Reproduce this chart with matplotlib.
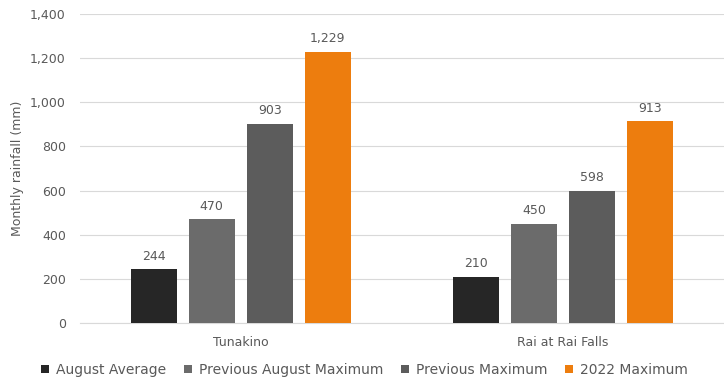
import numpy as np
import matplotlib
matplotlib.use('Agg')
from matplotlib import pyplot as plt

sites = ['Tunakino', 'Rai at Rai Falls']
series = ['August Average', 'Previous August Maximum', 'Previous Maximum', '2022 Maximum']
values = [
    [244, 210],
    [470, 450],
    [903, 598],
    [1229, 913],
]
colors = ['#262626', '#6b6b6b', '#5c5c5c', '#ed7d0e']
yticks = [0, 200, 400, 600, 800, 1000, 1200, 1400]

txt = '#595959'
plt.rcParams['font.family'] = ['DejaVu Sans']

fig = plt.figure(figsize=(7.24, 3.86), dpi=100)
ax = fig.add_axes([0.11, 0.163, 0.89, 0.801])

x = np.arange(len(sites))
width = 0.143
step = 0.18
for i, (name, vals, c) in enumerate(zip(series, values, colors)):
    pos = x + (i - 1.5) * step
    bars = ax.bar(pos, vals, width, color=c, label=name, zorder=3)
    for b, v in zip(bars, vals):
        ax.text(b.get_x() + b.get_width() / 2, v + 30, f'{v:,}',
                ha='center', va='bottom', fontsize=9, color=txt)

ax.set_xlim(-0.5, 1.5)
ax.set_ylim(0, 1400)
ax.set_yticks(yticks)
ax.set_yticklabels([f'{t:,}' for t in yticks], fontsize=9, color=txt)
ax.set_xticks(x)
ax.set_xticklabels(sites, fontsize=9, color=txt)
ax.tick_params(length=0)
ax.tick_params(axis='x', pad=9)
ax.tick_params(axis='y', pad=10)
ax.grid(axis='y', color='#d9d9d9', linewidth=0.8, zorder=0)
for s in ['top', 'right', 'left']:
    ax.spines[s].set_visible(False)
ax.spines['bottom'].set_color('#d9d9d9')
ax.set_ylabel('Monthly rainfall (mm)', fontsize=9, color=txt, labelpad=4)

fig.legend(loc='center', bbox_to_anchor=(0.5035, 0.042), ncol=4, frameon=False,
           fontsize=10, labelcolor=txt, handlelength=0.55, handleheight=0.55,
           handletextpad=0.5, columnspacing=1.3)

fig.savefig('out.png', dpi=100)
